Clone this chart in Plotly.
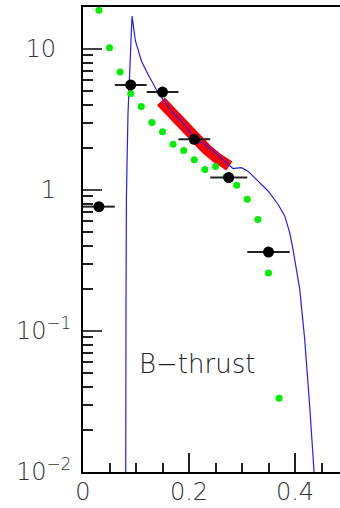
import math
import plotly.graph_objects as go

# Measured B-thrust distribution (bin centres, half-widths, values)
data_x = [0.03, 0.09, 0.15, 0.21, 0.275, 0.35]
data_xerr = [0.03, 0.03, 0.03, 0.03, 0.035, 0.04]
data_y = [0.762, 5.56, 4.95, 2.29, 1.225, 0.363]

# Model prediction (green dots)
model_x = [0.03, 0.05, 0.07, 0.09, 0.11, 0.13, 0.15, 0.17, 0.19,
           0.21, 0.23, 0.25, 0.27, 0.29, 0.31, 0.33, 0.35, 0.37]
model_y = [18.8, 10.2, 6.87, 4.83, 3.91, 3.01, 2.59, 2.11, 1.91,
           1.64, 1.40, 1.47, 1.24, 1.08, 0.859, 0.617, 0.258, 0.0334]

# Monte Carlo curve (blue line)
mc_x = [0.0800, 0.0806, 0.0811, 0.0819, 0.0849, 0.0881, 0.0906, 0.0925,
        0.0989, 0.1102, 0.1226, 0.1415, 0.1574, 0.1668, 0.1887, 0.1981,
        0.2108, 0.2296, 0.2485, 0.2706, 0.2768, 0.2830, 0.2894, 0.2989,
        0.3113, 0.3302, 0.3491, 0.3679, 0.3806, 0.3900, 0.3962, 0.4089,
        0.4183, 0.4277, 0.4358, 0.4372]
mc_y = [0.005, 0.0100, 0.143, 0.887, 3.50, 6.95, 11.7, 17.1,
        11.4, 8.22, 6.62, 4.90, 4.06, 3.63, 3.01, 2.69,
        2.29, 2.10, 1.86, 1.56, 1.48, 1.42, 1.43, 1.44,
        1.36, 1.16, 0.984, 0.793, 0.655, 0.499, 0.380, 0.198,
        0.0874, 0.0294, 0.0104, 0.0085]

# Fit-range theory band (red)
band_x = [0.147, 0.149, 0.173, 0.1917, 0.2106, 0.2328, 0.2517, 0.2736, 0.276]
band_y = [4.25, 4.17, 3.35, 2.77, 2.29, 1.95, 1.70, 1.50, 1.48]

y_tickvals = [0.01, 0.1, 1, 10]
y_ticktext = ["10<sup>\u22122</sup>", "10<sup>\u22121</sup>",
              "1\u00a0\u00a0", "10\u00a0\u00a0"]
x_tickvals = [0, 0.2, 0.4]
x_ticktext = ["0", "0.2", "0.4"]

label_text = "B\u2212thrust"
label_x = 0.2155
label_y = 0.058

FONT = "'DejaVu Sans', sans-serif"
WEIGHT = 200

fig = go.Figure()

fig.add_trace(go.Scatter(
    x=band_x, y=band_y, mode="lines",
    line=dict(color="#ff0000", width=11),
    hoverinfo="skip", showlegend=False))

fig.add_trace(go.Scatter(
    x=mc_x, y=mc_y, mode="lines",
    line=dict(color="#1f1fff", width=1.2),
    showlegend=False))

fig.add_trace(go.Scatter(
    x=model_x, y=model_y, mode="markers",
    marker=dict(color="#00ee00", size=7),
    showlegend=False))

fig.add_trace(go.Scatter(
    x=data_x, y=data_y, mode="markers",
    marker=dict(color="black", size=11),
    error_x=dict(type="data", array=data_xerr, color="#222222",
                 thickness=2, width=0),
    showlegend=False))

fig.add_annotation(
    x=label_x, y=math.log10(label_y), xref="x", yref="y",
    text=label_text, showarrow=False, xanchor="center", yanchor="middle",
    font=dict(family=FONT, size=26, color="#222222", weight=WEIGHT))

minor_y = [m * 10 ** e for e in range(-2, 2) for m in range(2, 10)]
minor_x = [0.05, 0.1, 0.15, 0.25, 0.3, 0.35, 0.45]

fig.update_layout(
    width=340, height=508,
    margin=dict(l=83, r=0, t=7, b=36),
    paper_bgcolor="white", plot_bgcolor="white",
    xaxis=dict(
        range=[0, 0.4849], showgrid=False, zeroline=False, automargin=False,
        showline=True, linecolor="black", linewidth=2, mirror=True,
        ticks="inside", ticklen=19, tickwidth=1.5, tickcolor="#222222",
        tickmode="array", tickvals=x_tickvals, ticktext=x_ticktext,
        ticklabelstandoff=-3,
        tickfont=dict(family=FONT, size=24, color="#333333", weight=WEIGHT),
        minor=dict(tickmode="array", tickvals=minor_x, ticks="inside",
                   ticklen=9, tickwidth=1.5, tickcolor="#222222",
                   showgrid=False),
    ),
    yaxis=dict(
        type="log", range=[-2, 1.298], showgrid=False, zeroline=False,
        automargin=False,
        showline=True, linecolor="black", linewidth=2, mirror=False,
        ticks="inside", ticklen=19, tickwidth=1.5, tickcolor="#444444",
        tickmode="array", tickvals=y_tickvals, ticktext=y_ticktext,
        ticklabelstandoff=5,
        tickfont=dict(family=FONT, size=24, color="#333333", weight=WEIGHT),
        minor=dict(tickmode="array", tickvals=minor_y, ticks="inside",
                   ticklen=10, tickwidth=1.5, tickcolor="#222222",
                   showgrid=False),
    ),
)

fig.write_html("out.html")
